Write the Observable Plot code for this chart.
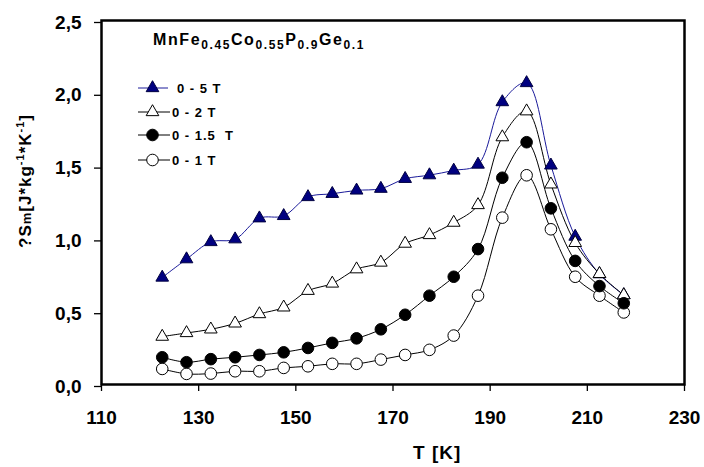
<!DOCTYPE html>
<html>
<head>
<meta charset="utf-8">
<script src="https://cdn.jsdelivr.net/npm/d3@7"></script>
<script src="https://cdn.jsdelivr.net/npm/@observablehq/plot@0.6"></script>
<style>
  html, body { margin: 0; padding: 0; background: #fff; }
  #chart svg { display: block; }
</style>
</head>
<body>
<div id="chart"></div>
<script>
// ---- data ----
const temperatures = [122.5, 127.5, 132.5, 137.5, 142.5, 147.5, 152.5, 157.5, 162.5, 167.5,
                      172.5, 177.5, 182.5, 187.5, 192.5, 197.5, 202.5, 207.5, 212.5, 217.5];
const seriesNames = ["0 - 5 T", "0 - 2 T", "0 - 1.5 T", "0 - 1 T"];
const dS_5T  = [0.735, 0.861, 0.979, 0.998, 1.142, 1.158, 1.288, 1.310, 1.333, 1.345,
                1.413, 1.438, 1.470, 1.511, 1.940, 2.071, 1.505, 1.016, 0.758, 0.615];
const dS_2T  = [0.329, 0.354, 0.379, 0.420, 0.484, 0.530, 0.644, 0.694, 0.792, 0.838,
                0.968, 1.027, 1.112, 1.233, 1.699, 1.877, 1.375, 0.973, 0.760, 0.614];
const dS_15T = [0.187, 0.153, 0.174, 0.187, 0.203, 0.221, 0.251, 0.286, 0.317, 0.379,
                0.479, 0.610, 0.740, 0.930, 1.420, 1.664, 1.210, 0.849, 0.676, 0.558];
const dS_1T  = [0.107, 0.073, 0.075, 0.091, 0.091, 0.114, 0.125, 0.142, 0.142, 0.171,
                0.203, 0.238, 0.336, 0.610, 1.146, 1.437, 1.066, 0.740, 0.610, 0.495];
const xTicks = [110, 130, 150, 170, 190, 210, 230];
const yTicks = [0, 0.5, 1.0, 1.5, 2.0, 2.5];
const titleParts = [["MnFe", false], ["0.45", true], ["Co", false], ["0.55", true],
                    ["P", false], ["0.9", true], ["Ge", false], ["0.1", true]];
const xLabel = "T [K]";
const yLabelParts = [["?S", "n"], ["m", "s"], ["[J*kg", "n"], ["-1", "u"], ["*K", "n"], ["-1", "u"], ["]", "n"]];

// ---- build table ----
const valuesBySeries = {"0 - 5 T": dS_5T, "0 - 2 T": dS_2T, "0 - 1.5 T": dS_15T, "0 - 1 T": dS_1T};
const rows = [];
for (const s of seriesNames) valuesBySeries[s].forEach((v, i) => rows.push({series: s, T: temperatures[i], dS: v}));

const FONT = "'Liberation Sans', Arial, Helvetica, sans-serif";
const style = {
  "0 - 5 T":   {line: "#1a1a9a", symbol: "triangle", fill: "#000080", stroke: "#000040", r: 4.7},
  "0 - 2 T":   {line: "#000000", symbol: "triangle", fill: "#ffffff", stroke: "#000000", r: 4.7},
  "0 - 1.5 T": {line: "#000000", symbol: "circle",   fill: "#000000", stroke: "#000000", r: 5.8},
  "0 - 1 T":   {line: "#000000", symbol: "circle",   fill: "#ffffff", stroke: "#000000", r: 5.8}
};
const drawOrder = ["0 - 5 T", "0 - 2 T", "0 - 1 T", "0 - 1.5 T"];

const lineMarks = drawOrder.map(s => Plot.line(rows.filter(d => d.series === s), {
  x: "T", y: "dS", stroke: style[s].line, strokeWidth: 1, curve: "catmull-rom"
}));
const dotMarks = drawOrder.map(s => Plot.dot(rows.filter(d => d.series === s), {
  x: "T", y: "dS", symbol: () => style[s].symbol, r: style[s].r,
  fill: style[s].fill, stroke: style[s].stroke, strokeWidth: 1
}));

// custom text/legend marks
function titleMark() {
  return () => {
    const t = d3.create("svg:text").attr("x", 153).attr("y", 45).attr("text-anchor", "start")
      .attr("font-family", FONT).attr("font-weight", "bold").attr("font-size", 16)
      .attr("letter-spacing", 1.6).attr("fill", "#000");
    let shifted = false;
    for (const [txt, sub] of titleParts) {
      const sp = t.append("tspan").text(txt);
      if (sub && !shifted) { sp.attr("dy", 4).attr("font-size", 12); shifted = true; }
      else if (sub) { sp.attr("font-size", 12); }
      else if (shifted) { sp.attr("dy", -4); shifted = false; }
    }
    return t.node();
  };
}
function yLabelMark() {
  return () => {
    const t = d3.create("svg:text")
      .attr("transform", "translate(31,181) rotate(-90)")
      .attr("text-anchor", "middle")
      .attr("font-family", FONT).attr("font-weight", "bold").attr("font-size", 17)
      .attr("letter-spacing", 1).attr("fill", "#000");
    let off = 0;
    for (const [txt, kind] of yLabelParts) {
      const sp = t.append("tspan").text(txt);
      let target = kind === "u" ? -7 : 0;
      if (kind !== "n") sp.attr("font-size", kind === "s" ? 13 : 11);
      if (target !== off) { sp.attr("dy", target - off); off = target; }
    }
    return t.node();
  };
}
function xLabelMark() {
  return () => d3.create("svg:text").attr("x", 413).attr("y", 459).attr("text-anchor", "start")
    .attr("font-family", FONT).attr("font-weight", "bold").attr("font-size", 19)
    .attr("letter-spacing", 1).attr("fill", "#000").text(xLabel).node();
}
function legendMark() {
  const rowsY = [88, 112, 135, 160];
  const labelX = [177, 172, 172, 172];
  return () => {
    const g = d3.create("svg:g");
    seriesNames.forEach((s, i) => {
      const y = rowsY[i];
      g.append("line").attr("x1", 138).attr("x2", i === 0 ? 168 : 170).attr("y1", y).attr("y2", y)
        .attr("stroke", style[s].line).attr("stroke-width", 1);
      g.append("path").attr("transform", `translate(152.5,${y})`)
        .attr("d", d3.symbol(style[s].symbol === "triangle" ? d3.symbolTriangle : d3.symbolCircle, style[s].r * style[s].r * Math.PI)())
        .attr("fill", style[s].fill).attr("stroke", style[s].stroke).attr("stroke-width", 1);
      g.append("text").attr("x", labelX[i]).attr("y", y + 4.5).attr("text-anchor", "start")
        .attr("font-family", FONT).attr("font-weight", "bold").attr("font-size", 13)
        .attr("letter-spacing", 1).attr("fill", "#000").text(s.replace("1.5 T", "1.5  T"))
        .style("white-space", "pre");
    });
    return g.node();
  };
}

const chart = Plot.plot({
  width: 704,
  height: 467,
  marginLeft: 101,
  marginRight: 20,
  marginTop: 20,
  marginBottom: 83,
  style: {fontFamily: FONT, background: "#fff", color: "#000"},
  x: {domain: [110, 230], label: null},
  y: {domain: [0, 2.5], label: null},
  marks: [
    ...lineMarks,
    ...dotMarks,
    Plot.frame({stroke: "#000", strokeWidth: 2.5}),
    Plot.axisX({ticks: xTicks, tickSize: 7, tickPadding: 19, strokeWidth: 1.3,
                fontSize: 19, fontWeight: "bold", tickFormat: d => String(d), label: null}),
    Plot.axisY({ticks: yTicks, tickSize: 7, tickPadding: 13, strokeWidth: 1.3, dy: 2,
                fontSize: 19, fontWeight: "bold", tickFormat: d => d.toFixed(1).replace(".", ","), label: null}),
    titleMark(),
    legendMark(),
    yLabelMark(),
    xLabelMark()
  ]
});
document.getElementById("chart").appendChild(chart);
</script>
</body>
</html>
